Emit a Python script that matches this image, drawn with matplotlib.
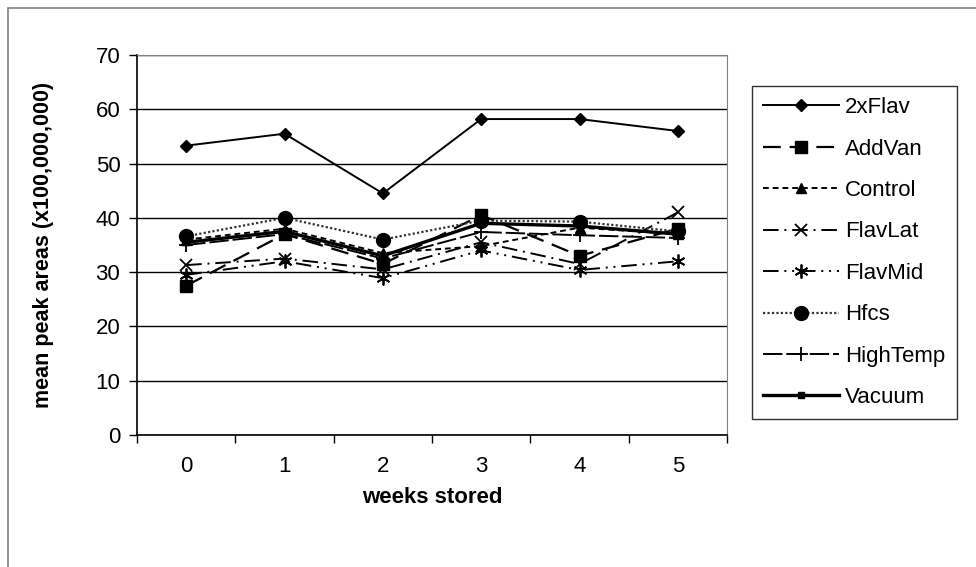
import matplotlib
matplotlib.use("Agg")
import matplotlib.pyplot as plt
from matplotlib.patches import Rectangle

plt.rcParams['font.family'] = ['Liberation Sans', 'DejaVu Sans']

weeks = [0, 1, 2, 3, 4, 5]
week_labels = ['0', '1', '2', '3', '4', '5']

flav2x = [53.3, 55.5, 44.5, 58.2, 58.2, 56.0]
addvan = [27.5, 37.0, 31.5, 40.5, 33.0, 38.0]
control = [36.0, 38.0, 33.5, 34.8, 38.2, 37.0]
flavlat = [31.3, 32.5, 30.5, 35.5, 31.5, 41.0]
flavmid = [29.5, 32.0, 28.9, 34.0, 30.4, 32.0]
hfcs = [36.6, 40.0, 36.0, 39.5, 39.3, 37.5]
hightemp = [35.0, 37.0, 32.5, 37.4, 36.8, 36.3]
vacuum = [35.5, 37.5, 33.0, 39.0, 38.5, 37.0]

series = [
    ('2xFlav', flav2x, dict(ls='-', lw=1.4, marker='D', ms=6)),
    ('AddVan', addvan, dict(ls=(0, (8, 4)), lw=1.6, marker='s', ms=9)),
    ('Control', control, dict(ls=(0, (3, 2)), lw=1.4, marker='^', ms=7)),
    ('FlavLat', flavlat, dict(ls=(0, (8, 3, 1, 3)), lw=1.4, marker='x', ms=9, mew=1.3)),
    ('FlavMid', flavmid, dict(ls=(0, (8, 3, 1, 3, 1, 3)), lw=1.4, marker=(6, 2, 0), ms=10, mew=1.3)),
    ('Hfcs', hfcs, dict(ls=(0, (1, 1)), lw=1.6, color='#333333', marker='o', ms=10)),
    ('HighTemp', hightemp, dict(ls=(0, (10, 2)), lw=1.4, marker='+', ms=10, mew=1.3)),
    ('Vacuum', vacuum, dict(ls='-', lw=2.4, marker='s', ms=4)),
]

FS = 16

fig = plt.figure(figsize=(9.76, 5.67), dpi=100)
fig.patches.append(Rectangle((8 / 976, -0.01), 1.0, 1 - 8 / 567 + 0.01,
                             transform=fig.transFigure, fill=False,
                             edgecolor='#808080', lw=1.2))

ax = fig.add_axes([137 / 976, 1 - 435 / 567, 590 / 976, 380 / 567])

for name, vals, st in series:
    st = dict(st)
    col = st.pop('color', 'black')
    ax.plot(weeks, vals, color=col, mfc='black', mec='black',
            label=name, **st)

ax.set_xlim(-0.5, 5.5)
ax.set_ylim(0, 70)
ax.set_yticks(range(0, 71, 10))
ax.set_xticks(weeks)
ax.set_xticklabels(week_labels)
ax.set_xticks([i - 0.5 for i in range(7)], minor=True)
ax.tick_params(axis='x', which='major', length=0, pad=15, labelsize=FS)
ax.tick_params(axis='x', which='minor', length=6, direction='out', width=1, color='black')
ax.tick_params(axis='y', length=6, direction='out', labelsize=FS, pad=6, width=1)
ax.yaxis.grid(True, color='black', lw=1)
ax.set_axisbelow(True)
for side in ['top', 'right']:
    ax.spines[side].set_color('#808080')
for side in ['left', 'bottom']:
    ax.spines[side].set_color('black')
    ax.spines[side].set_linewidth(1.2)

ax.set_xlabel('weeks stored', fontsize=FS, fontweight='bold', labelpad=7)
ax.set_ylabel('mean peak areas (x100,000,000)', fontsize=15.5, fontweight='bold', labelpad=30)

leg = fig.legend(loc='upper left', bbox_to_anchor=(752 / 976, 1 - 86 / 567),
                 frameon=True, fancybox=False, edgecolor='black', fontsize=FS,
                 handlelength=3.4, labelspacing=0.92, borderpad=0.5,
                 handletextpad=0.3, borderaxespad=0)
leg.get_frame().set_linewidth(1)

fig.savefig('out.png', dpi=100)
